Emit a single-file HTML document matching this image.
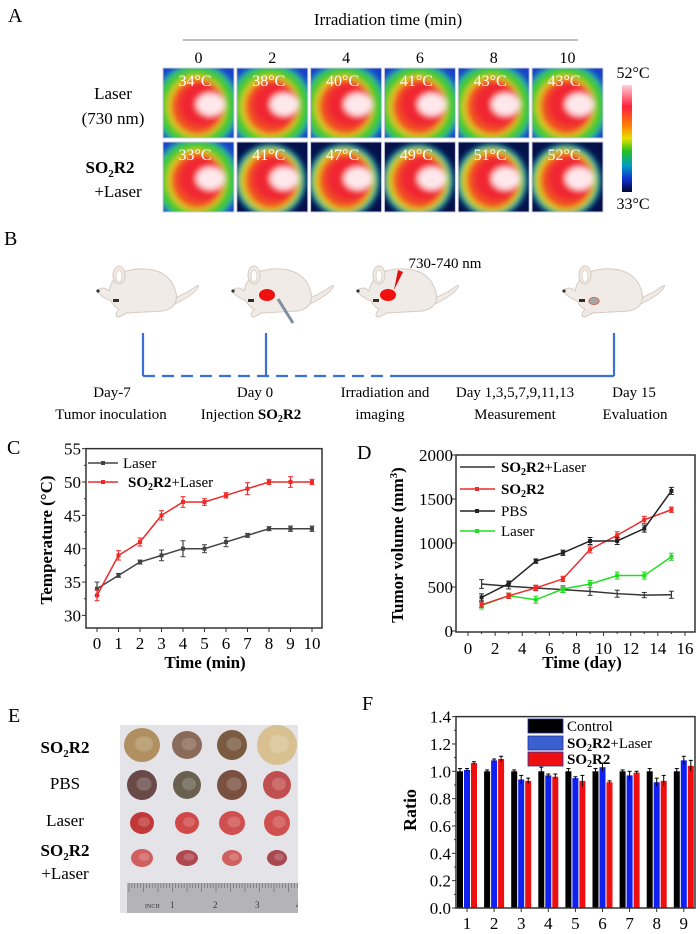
<!DOCTYPE html>
<html><head><meta charset="utf-8"><style>
html,body{margin:0;padding:0;background:#fff}
svg{display:block;font-family:"Liberation Serif",serif}
</style></head><body>
<svg id="fig" width="700" height="934" viewBox="0 0 700 934" xmlns="http://www.w3.org/2000/svg">
<defs>
<filter id="bl" x="-20%" y="-20%" width="140%" height="140%"><feGaussianBlur stdDeviation="3"/></filter>
<linearGradient id="cbar" x1="0" y1="0" x2="0" y2="1">
<stop offset="0" stop-color="#ffd0d8"/><stop offset="0.2" stop-color="#ff2040"/><stop offset="0.38" stop-color="#ff8000"/><stop offset="0.5" stop-color="#e8e000"/><stop offset="0.62" stop-color="#20c020"/><stop offset="0.75" stop-color="#00a0c0"/><stop offset="0.88" stop-color="#1030d0"/><stop offset="1" stop-color="#000830"/>
</linearGradient>
<clipPath id="photoclip"><rect x="120" y="725" width="178" height="188"/></clipPath>
</defs>

<!-- Panel A -->
<text x="8" y="22" font-size="20">A</text>
<text x="388" y="25" font-size="17" text-anchor="middle">Irradiation time (min)</text>
<line x1="183" y1="40" x2="578" y2="40" stroke="#aaa" stroke-width="1.5"/>
<g id="thermal"></g>
<text x="113" y="99" font-size="17" text-anchor="middle">Laser</text>
<text x="113" y="124" font-size="17" text-anchor="middle">(730 nm)</text>
<text x="110" y="173" font-size="17" font-weight="bold" text-anchor="middle">SO<tspan font-size="11" dy="4">2</tspan><tspan dy="-4">R2</tspan></text>
<text x="118" y="197" font-size="17" text-anchor="middle">+Laser</text>
<rect x="622" y="85" width="10" height="107" fill="url(#cbar)"/>
<text x="633" y="78" font-size="16" text-anchor="middle">52°C</text>
<text x="633" y="209" font-size="16" text-anchor="middle">33°C</text>

<!-- Panel B -->
<text x="4" y="245" font-size="20">B</text>
<g id="mice"></g>
<text x="445" y="268" font-size="15" text-anchor="middle">730-740 nm</text>
<g stroke="#3a6fd8" stroke-width="2.2" fill="none">
<line x1="143" y1="333" x2="143" y2="376"/><line x1="266" y1="333" x2="266" y2="376"/><line x1="614" y1="333" x2="614" y2="376"/>
<line x1="143" y1="376" x2="402" y2="376" stroke-dasharray="12,7"/>
<line x1="402" y1="376" x2="614" y2="376"/>
</g>
<g font-size="15" text-anchor="middle">
<text x="112" y="397">Day-7</text><text x="111" y="419">Tumor inoculation</text>
<text x="255" y="397">Day 0</text><text x="251" y="419">Injection <tspan font-weight="bold">SO<tspan font-size="10" dy="3">2</tspan><tspan dy="-3">R2</tspan></tspan></text>
<text x="385" y="397">Irradiation and</text><text x="380" y="419">imaging</text>
<text x="515" y="397">Day 1,3,5,7,9,11,13</text><text x="515" y="419">Measurement</text>
<text x="634" y="397">Day 15</text><text x="635" y="419">Evaluation</text>
</g>

<!-- Panel C -->
<text x="7" y="454" font-size="20">C</text>
<g id="chartC"></g>
<!-- Panel D -->
<text x="357" y="459" font-size="20">D</text>
<g id="chartD"></g>

<!-- Panel E -->
<text x="8" y="722" font-size="20">E</text>
<g font-size="17" text-anchor="middle">
<text x="65" y="753" font-weight="bold">SO<tspan font-size="11" dy="4">2</tspan><tspan dy="-4">R2</tspan></text>
<text x="65" y="789">PBS</text>
<text x="65" y="826">Laser</text>
<text x="65" y="856" font-weight="bold">SO<tspan font-size="11" dy="4">2</tspan><tspan dy="-4">R2</tspan></text>
<text x="65" y="879">+Laser</text>
</g>
<g id="photo" clip-path="url(#photoclip)">
<rect x="120" y="725" width="178" height="188" fill="#e4e4e8"/>
</g>

<!-- Panel F -->
<text x="362" y="710" font-size="20">F</text>
<g id="chartF"></g>
</svg>
<script>
const NS="http://www.w3.org/2000/svg";
function mk(parent,tag,attrs,txt){const e=document.createElementNS(NS,tag);for(const k in attrs)e.setAttribute(k,attrs[k]);if(txt!==undefined)e.textContent=txt;parent.appendChild(e);return e;}

// ---------- Panel A data ----------
const timeLabels=["0","2","4","6","8","10"];
const laserTemps=["34°C","38°C","40°C","41°C","43°C","43°C"];
const so2r2Temps=["33°C","41°C","47°C","49°C","51°C","52°C"];
(function(){
 const g=document.getElementById('thermal');
 const fig=document.getElementById('fig');
 for(let r=0;r<2;r++){
  for(let c=0;c<6;c++){
   const x=163+c*73.8, y=r===0?68:142, w=71, h=70;
   const cell=mk(g,'g',{});
   
   
   const cp=mk(fig.querySelector('defs'),'clipPath',{id:'tc'+r+c});
   mk(cp,'rect',{x:x,y:y,width:w,height:h});
   const inner=mk(cell,'g',{'clip-path':'url(#tc'+r+c+')'});
   const dark=(r===1&&c>0);
   mk(inner,'rect',{x:x,y:y,width:w,height:h,fill:dark?'#06104a':'#1840c8'});
   const bf=mk(inner,'g',{filter:'url(#bl)'});
   const cx=x+w*0.5, cy=y+h*0.55;
   mk(bf,'ellipse',{cx:cx-2,cy:cy,rx:w*(dark?0.5:0.6),ry:h*(dark?0.52:0.62),fill:'#1aa8c0'});
   mk(bf,'ellipse',{cx:cx-2,cy:cy,rx:w*(dark?0.46:0.56),ry:h*(dark?0.48:0.58),fill:'#40c830'});
   mk(bf,'ellipse',{cx:cx-2,cy:cy,rx:w*0.42,ry:h*0.45,fill:'#e0d020'});
   mk(bf,'ellipse',{cx:cx-1,cy:cy,rx:w*0.37,ry:h*0.4,fill:'#f05020'});
   mk(bf,'ellipse',{cx:cx+3,cy:cy-2,rx:w*0.32,ry:h*0.32,fill:'#f02830'});
   mk(bf,'ellipse',{cx:cx+12,cy:cy-2,rx:w*0.2,ry:h*0.16,fill:'#ffe8ec'});
   mk(cell,'rect',{x:x,y:y,width:w,height:h,fill:'none',stroke:'#ccd',"stroke-width":1});
   const t=mk(cell,'text',{x:x+32,y:y+18,'font-size':16,fill:'#fff','text-anchor':'middle'},(r===0?laserTemps:so2r2Temps)[c]);
   
   
   if(r===0){const tl=mk(g,'text',{x:x+w/2,y:63,'font-size':16,'text-anchor':'middle'},timeLabels[c]);
    
    }
  }
 }
})();

// ---------- Panel B mice ----------
(function(){
 const g=document.getElementById('mice');
 const mice=[{x:97,t:null},{x:232,t:'red'},{x:357,t:'red'},{x:563,t:'grey'}];
 mice.forEach((m,i)=>{
  const mg=mk(g,'g',{transform:'translate('+m.x+',265)'});
  
  
  const st={fill:'#f0ebe6',stroke:'#d6cbc2','stroke-width':1};
  mk(mg,'path',Object.assign({d:'M60,40 Q88,30 98,22 Q104,18 100,24 Q92,34 62,46 Z'},st));
  mk(mg,'path',Object.assign({d:'M12,26 Q16,6 40,4 Q70,2 78,24 Q84,42 66,46 L30,48 Q18,44 14,36 Q4,32 0,26 Q6,20 12,26 Z'},st));
  mk(mg,'ellipse',Object.assign({cx:22,cy:10,rx:6,ry:9},st));
  mk(mg,'ellipse',{cx:22,cy:11,rx:3,ry:6,fill:'#fff',stroke:'#d6cbc2','stroke-width':0.8});
  mk(mg,'path',Object.assign({d:'M22,44 Q16,52 22,52 L30,48'},st));
  mk(mg,'circle',{cx:1,cy:26,r:1.6,fill:'#333'});
  mk(mg,'rect',{x:16,y:34,width:6,height:3,fill:'#3a2a20'});
  if(m.t==='red')mk(mg,'ellipse',{cx:m.x===232?35:31,cy:30,rx:8,ry:6,fill:'#f01010'});
  if(m.t==='grey')mk(mg,'ellipse',{cx:31,cy:36,rx:5,ry:3.5,fill:'#a8a8a8',stroke:'#c07050','stroke-width':1});
 });
 const sy=mk(g,'line',{x1:278,y1:299,x2:293,y2:323,stroke:'#8090a0','stroke-width':3});
 
 
 const lb=mk(g,'path',{d:'M398,270 L403,272 L394,290 Z',fill:'#e01010'});
 
 
})();

// ---------- Panel C data ----------
const cTimes=[0,1,2,3,4,5,6,7,8,9,10];
const cLaser=[34,36,38,39,40,40,41,42,43,43,43];
const cLaserErr=[1,0.3,0.3,0.8,1.2,0.6,0.7,0.3,0.3,0.4,0.4];
const cCombo=[33,39,41,45,47,47,48,49,50,50,50];
const cComboErr=[0.8,0.7,0.6,0.7,0.8,0.5,0.4,0.9,0.4,0.8,0.4];
const cYTicks=[30,35,40,45,50,55];
(function(){
 const g=document.getElementById('chartC');
 const X=t=>97+21.5*t, Y=v=>482-(v-50)*6.67;
 const L=86,R=322,T=Y(55),B=628;
 mk(g,'rect',{x:L,y:T,width:R-L,height:B-T,fill:'none',stroke:'#333','stroke-width':1.5});
 cYTicks.forEach(v=>{mk(g,'line',{x1:L,x2:L-4,y1:Y(v),y2:Y(v),stroke:'#333'});
  const t=mk(g,'text',{x:L-5,y:Y(v)+6,'font-size':17,'text-anchor':'end'},v);
  
  
  if(v<55)mk(g,'line',{x1:L,x2:L-2,y1:Y(v+2.5),y2:Y(v+2.5),stroke:'#333'});});
 cTimes.forEach(t=>{mk(g,'line',{x1:X(t),x2:X(t),y1:B,y2:B+4,stroke:'#333'});
  const tx=mk(g,'text',{x:X(t),y:649,'font-size':17,'text-anchor':'middle'},t);
  
  });
 const xt=mk(g,'text',{x:205,y:668,'font-size':17,'font-weight':'bold','text-anchor':'middle'},'Time (min)');
 
 
 const yt=mk(g,'text',{x:0,y:0,'font-size':17,'font-weight':'bold','text-anchor':'middle',transform:'translate(52,540) rotate(-90)'},'Temperature (°C)');
 
 
 function series(vals,errs,col,name){
  const sg=mk(g,'g',{});
  
  
  mk(sg,'polyline',{points:vals.map((v,i)=>X(cTimes[i])+','+Y(v)).join(' '),fill:'none',stroke:col,'stroke-width':1.5});
  vals.forEach((v,i)=>{const x=X(cTimes[i]);
   mk(sg,'line',{x1:x,x2:x,y1:Y(v+errs[i]),y2:Y(v-errs[i]),stroke:col,'stroke-width':1.2});
   mk(sg,'line',{x1:x-2.5,x2:x+2.5,y1:Y(v+errs[i]),y2:Y(v+errs[i]),stroke:col});
   mk(sg,'line',{x1:x-2.5,x2:x+2.5,y1:Y(v-errs[i]),y2:Y(v-errs[i]),stroke:col});
   mk(sg,'rect',{x:x-2,y:Y(v)-2,width:4,height:4,fill:col});});
 }
 series(cLaser,cLaserErr,'#444','laser-series');
 series(cCombo,cComboErr,'#ee2a2a','so2r2-laser-series');
 const lg=mk(g,'g',{});
 
 
 mk(lg,'line',{x1:88,x2:118,y1:463,y2:463,stroke:'#444','stroke-width':1.5});
 mk(lg,'rect',{x:101,y:461,width:4,height:4,fill:'#444'});
 mk(lg,'text',{x:123,y:468,'font-size':15},'Laser');
 mk(lg,'line',{x1:88,x2:118,y1:482,y2:482,stroke:'#ee2a2a','stroke-width':1.5});
 mk(lg,'rect',{x:101,y:480,width:4,height:4,fill:'#ee2a2a'});
 const tt=mk(lg,'text',{x:128,y:487,'font-size':15});
 tt.innerHTML='<tspan font-weight="bold">SO<tspan font-size="10" dy="3">2</tspan><tspan dy="-3">R2</tspan></tspan>+Laser';
})();

// ---------- Panel D data ----------
const dDays=[1,3,5,7,9,11,13,15];
const dCombo=[534,508,489,470,450,424,408,412];
const dComboErr=[50,30,30,30,45,40,30,40];
const dSo2r2=[298,400,489,592,927,1088,1263,1378];
const dSo2r2Err=[30,30,30,30,40,40,40,30];
const dPbs=[382,538,794,889,1023,1023,1164,1592];
const dPbsErr=[40,30,25,30,40,40,40,40];
const dLaser=[290,401,355,477,534,630,630,844];
const dLaserErr=[40,30,40,40,40,40,40,40];
const dXTicks=[0,2,4,6,8,10,12,14,16];
const dYTicks=[0,500,1000,1500,2000];
(function(){
 const g=document.getElementById('chartD');
 const X=d=>468+13.56*d, Y=v=>631-v*0.088;
 const L=456,R=695,T=Y(2000),B=632;
 mk(g,'rect',{x:L,y:T,width:R-L,height:B-T,fill:'none',stroke:'#333','stroke-width':1.5});
 dYTicks.forEach(v=>{mk(g,'line',{x1:L,x2:L-4,y1:Y(v),y2:Y(v),stroke:'#333'});
  const t=mk(g,'text',{x:L-3,y:Y(v)+6,'font-size':17,'text-anchor':'end'},v);
  
  });
 dXTicks.forEach(d=>{mk(g,'line',{x1:X(d),x2:X(d),y1:B,y2:B+4,stroke:'#333'});
  if(d<16)mk(g,'line',{x1:X(d+1),x2:X(d+1),y1:B,y2:B+2,stroke:'#333'});
  const t=mk(g,'text',{x:X(d),y:654,'font-size':17,'text-anchor':'middle'},d);
  
  });
 const xt=mk(g,'text',{x:582,y:668,'font-size':17,'font-weight':'bold','text-anchor':'middle'},'Time (day)');
 
 
 const yt=mk(g,'text',{x:0,y:0,'font-size':17,'font-weight':'bold','text-anchor':'middle',transform:'translate(403,545) rotate(-90)'});
 yt.innerHTML='Tumor volume (mm<tspan font-size="11" dy="-6">3</tspan><tspan dy="6">)</tspan>';
 
 
 function series(vals,errs,col,name,marker){
  const sg=mk(g,'g',{});
  
  
  mk(sg,'polyline',{points:vals.map((v,i)=>X(dDays[i])+','+Y(v)).join(' '),fill:'none',stroke:col,'stroke-width':1.5});
  vals.forEach((v,i)=>{const x=X(dDays[i]);
   mk(sg,'line',{x1:x,x2:x,y1:Y(v+errs[i]),y2:Y(v-errs[i]),stroke:col,'stroke-width':1.2});
   mk(sg,'line',{x1:x-2.5,x2:x+2.5,y1:Y(v+errs[i]),y2:Y(v+errs[i]),stroke:col});
   mk(sg,'line',{x1:x-2.5,x2:x+2.5,y1:Y(v-errs[i]),y2:Y(v-errs[i]),stroke:col});
   if(marker)mk(sg,'rect',{x:x-2,y:Y(v)-2,width:4,height:4,fill:col});});
 }
 series(dCombo,dComboErr,'#333','so2r2-laser-series',false);
 series(dLaser,dLaserErr,'#22dd22','laser-series',true);
 series(dSo2r2,dSo2r2Err,'#ee2a2a','so2r2-series',true);
 series(dPbs,dPbsErr,'#222','pbs-series',true);
 const lg=mk(g,'g',{});
 
 
 const ent=[['#333',467,'<tspan font-weight="bold">SO<tspan font-size="10" dy="3">2</tspan><tspan dy="-3">R2</tspan></tspan>+Laser',false],
  ['#ee2a2a',489,'<tspan font-weight="bold">SO<tspan font-size="10" dy="3">2</tspan><tspan dy="-3">R2</tspan></tspan>',true],
  ['#222',511,'PBS',true],['#22dd22',531,'Laser',true]];
 ent.forEach(e=>{mk(lg,'line',{x1:460,x2:495,y1:e[1],y2:e[1],stroke:e[0],'stroke-width':1.5});
  if(e[3])mk(lg,'rect',{x:475,y:e[1]-2,width:4,height:4,fill:e[0]});
  const t=mk(lg,'text',{x:501,y:e[1]+5,'font-size':15});t.innerHTML=e[2];});
})();

// ---------- Panel E photo ----------
const tumorRows=[[[18,17,'#b09060'],[15,14,'#8a6a58'],[15,15,'#7a5a40'],[20,20,'#d8c090']],
 [[15,15,'#6a4a48'],[14,14,'#6a6050'],[15,15,'#7a5040'],[14,14,'#c05050']],
 [[12,11,'#c03838'],[12,11,'#d04848'],[13,12,'#d05050'],[13,13,'#d05050']],
 [[11,9,'#d06060'],[11,8,'#b04850'],[10,8,'#d06060'],[10,8,'#a84850']]];
(function(){
 const g=document.getElementById('photo');
 const rowsY=[745,785,823,858], colsX=[142,187,232,277];
 tumorRows.forEach((row,r)=>row.forEach((t,c)=>{
  const e=mk(g,'ellipse',{cx:colsX[c],cy:rowsY[r],rx:t[0],ry:t[1],fill:t[2]});
  
  
  mk(g,'ellipse',{cx:colsX[c]+2,cy:rowsY[r]-1,rx:t[0]*0.5,ry:t[1]*0.45,fill:'#fff',opacity:0.18});}));
 const rl=mk(g,'rect',{x:127,y:883,width:175,height:32,fill:'#b4b4b8'});
 
 
 for(let i=0;i<60;i++)mk(g,'line',{x1:129+i*2.9,x2:129+i*2.9,y1:883,y2:i%5?888:892,stroke:'#555','stroke-width':0.5});
 mk(g,'text',{x:145,y:908,'font-size':6,fill:'#333'},'INCH');
 [['1',170],['2',213],['3',255],['4',296]].forEach(a=>mk(g,'text',{x:a[1],y:908,'font-size':9,fill:'#333'},a[0]));
})();

// ---------- Panel F data ----------
const fGroups=["1","2","3","4","5","6","7","8","9"];
const fControl=[1.0,1.0,1.0,1.0,1.0,1.0,1.0,1.0,1.0];
const fControlErr=[0.02,0.01,0.01,0.03,0.02,0.02,0.01,0.02,0.02];
const fCombo=[1.01,1.08,0.94,0.97,0.95,1.03,0.97,0.92,1.08];
const fComboErr=[0.01,0.01,0.03,0.01,0.01,0.03,0.03,0.03,0.03];
const fSo2r2=[1.06,1.09,0.93,0.96,0.93,0.92,0.99,0.93,1.04];
const fSo2r2Err=[0.01,0.02,0.02,0.02,0.04,0.01,0.01,0.04,0.04];
const fYTicks=[0.0,0.2,0.4,0.6,0.8,1.0,1.2,1.4];
(function(){
 const g=document.getElementById('chartF');
 const Y=v=>908-v*136.7, X=i=>467+27.1*i;
 const L=456,R=695,T=Y(1.4),B=908;
 fYTicks.forEach(v=>{mk(g,'line',{x1:L,x2:L-4,y1:Y(v),y2:Y(v),stroke:'#333'});
  if(v<1.4)mk(g,'line',{x1:L,x2:L-2,y1:Y(v+0.1),y2:Y(v+0.1),stroke:'#333'});
  const t=mk(g,'text',{x:L-5,y:Y(v)+6,'font-size':17,'text-anchor':'end'},v.toFixed(1));
  
  });
 const yt=mk(g,'text',{x:0,y:0,'font-size':18,'font-weight':'bold','text-anchor':'middle',transform:'translate(416,810) rotate(-90)'},'Ratio');
 
 
 const sets=[[fControl,fControlErr,'#000',-7,'control-bar'],[fCombo,fComboErr,'#1020ee',0,'so2r2-laser-bar'],[fSo2r2,fSo2r2Err,'#ee1010',7,'so2r2-bar']];
 fGroups.forEach((lab,i)=>{
  sets.forEach(s=>{const x=X(i)+s[3],v=s[0][i],e=s[1][i];
   const b=mk(g,'rect',{x:x-3,y:Y(v),width:6,height:B-Y(v),fill:s[2]});
   
   
   mk(g,'line',{x1:x,x2:x,y1:Y(v+e),y2:Y(v-e),stroke:'#000','stroke-width':1});
   mk(g,'line',{x1:x-2,x2:x+2,y1:Y(v+e),y2:Y(v+e),stroke:'#000'});});
  mk(g,'line',{x1:X(i),x2:X(i),y1:B,y2:B+4,stroke:'#333'});
  const t=mk(g,'text',{x:X(i),y:929,'font-size':17,'text-anchor':'middle'},lab);
  
  
 });
 mk(g,'rect',{x:L,y:T,width:R-L,height:B-T,fill:'none',stroke:'#333','stroke-width':1.5});
 const lg=mk(g,'g',{});
 
 
 const ent=[['#000',726,'Control'],['#3a60d0',743,'<tspan font-weight="bold">SO<tspan font-size="10" dy="3">2</tspan><tspan dy="-3">R2</tspan></tspan>+Laser'],['#ee1010',759,'<tspan font-weight="bold">SO<tspan font-size="10" dy="3">2</tspan><tspan dy="-3">R2</tspan></tspan>']];
 ent.forEach(e=>{mk(lg,'rect',{x:528,y:e[1]-7,width:35,height:14,fill:e[0],stroke:'#2030a0','stroke-width':0.8});
  const t=mk(lg,'text',{x:567,y:e[1]+5,'font-size':15});t.innerHTML=e[2];});
})();
</script>
</body></html>
